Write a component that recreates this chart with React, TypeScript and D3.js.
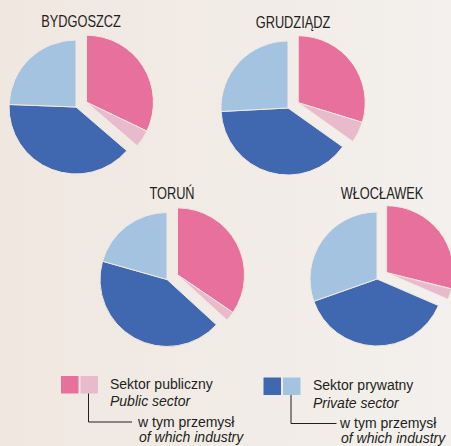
import React from 'react'
import * as d3 from 'd3'

// shares of employment per city, percent (read clockwise from 12 o'clock)
const cities = ['BYDGOSZCZ', 'GRUDZIĄDZ', 'TORUŃ', 'WŁOCŁAWEK']
const publicSector = [32.1, 29.7, 34.5, 28.9]
const publicIndustry = [4.2, 5.1, 2.3, 2.6]
const privateSector = [39.3, 39.3, 42.6, 38.1]
const privateIndustry = [24.4, 25.8, 20.6, 30.4]

const colors = ['#E8709D', '#E8BACC', '#3F68B1', '#A3C3E1']

const W = 451
const H = 446
const R = 67
const EXPLODE = 11.5
const centers = [
    [76, 107],
    [288, 108],
    [167, 279.5],
    [377, 279],
]

const font = '"Liberation Sans", Arial, sans-serif'
const ink = '#231F20'

function Pie({ idx }: { idx: number }) {
    const values = [publicSector[idx], publicIndustry[idx], privateSector[idx], privateIndustry[idx]]
    const pie = d3.pie<number>().sort(null).value(d => d).startAngle(0).endAngle(2 * Math.PI)
    const arcs = pie(values)
    const arc = d3.arc<d3.PieArcDatum<number>>().innerRadius(0).outerRadius(R)
    // public group (first two slices) pulled out along its middle angle
    const mid = (arcs[0].startAngle + arcs[1].endAngle) / 2
    const dx = Math.sin(mid) * EXPLODE
    const dy = -Math.cos(mid) * EXPLODE
    const [cx, cy] = centers[idx]
    return (
        <g transform={`translate(${cx},${cy})`}>
            {arcs.map((a, i) => (
                <path
                    key={i}
                    d={arc(a) || ''}
                    transform={i < 2 ? `translate(${dx},${dy})` : undefined}
                    fill={colors[i]}
                    stroke="#F4E9DF"
                    strokeWidth={1}
                    strokeLinejoin="round"
                />
            ))}
            {/* narrow headline: plain sans squeezed horizontally */}
            <g transform={`translate(5,${-R - 13.5}) scale(0.8,1)`}>
                <text textAnchor="middle" fontFamily={font} fontSize={16} fill={ink}>
                    {cities[idx]}
                </text>
            </g>
        </g>
    )
}

function Legend({ x, y, c1, c2, title, titleEn, textX, subX, subEnX, lineEnd }: any) {
    const sq = 17.5
    return (
        <g fontFamily={font} fontSize={14} fill={ink}>
            <rect x={x} y={y} width={sq} height={sq} fill={c1} />
            <rect x={x + sq + 2} y={y} width={sq} height={sq} fill={c2} />
            <polyline
                points={`${x + sq + 10},${y + sq} ${x + sq + 10},${y + 46} ${lineEnd},${y + 46}`}
                fill="none"
                stroke={ink}
                strokeWidth={1}
            />
            <text x={textX} y={y + 12.5}>{title}</text>
            <text x={textX} y={y + 30}>
                <tspan fontStyle="italic">{titleEn}</tspan>
            </text>
            <text x={subX} y={y + 50.5}>w tym przemysł</text>
            <text x={subEnX} y={y + 65.5} fontStyle="italic">of which industry</text>
        </g>
    )
}

export default function App() {
    return (
        <div style={{ position: 'fixed', left: 0, top: 0, width: W, height: H }}>
            <svg width={W} height={H} viewBox={`0 0 ${W} ${H}`} style={{ display: 'block' }}>
                <defs>
                    <linearGradient id="bg" x1="0" y1="0" x2="1" y2="0">
                        <stop offset="0" stopColor="#F0E7E0" />
                        <stop offset="1" stopColor="#F3F0ED" />
                    </linearGradient>
                </defs>
                <rect width={W} height={H} fill="url(#bg)" />
                {cities.map((c, i) => <Pie key={c} idx={i} />)}
                <Legend x={61} y={376} c1={colors[0]} c2={colors[1]}
                    title="Sektor publiczny" titleEn="Public sector"
                    textX={110} subX={138} subEnX={139} lineEnd={132} />
                <Legend x={263.5} y={377.5} c1={colors[2]} c2={colors[3]}
                    title="Sektor prywatny" titleEn="Private sector"
                    textX={313} subX={340} subEnX={341} lineEnd={336.5} />
            </svg>
        </div>
    )
}
